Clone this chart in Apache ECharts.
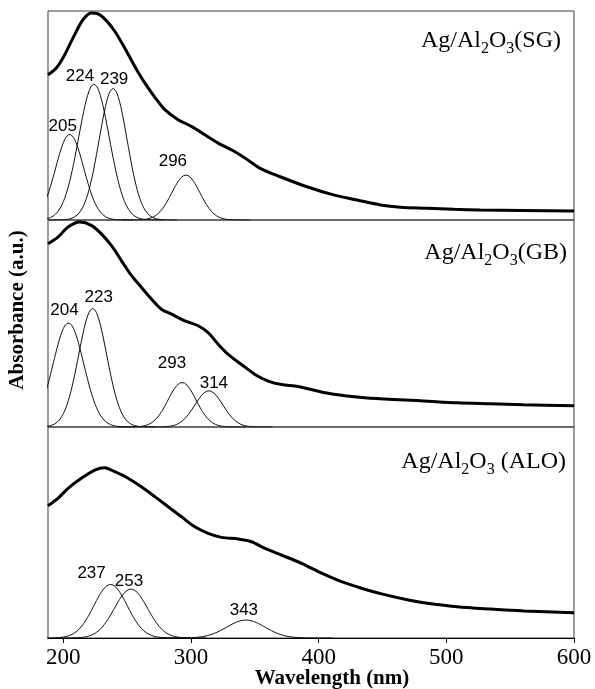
<!DOCTYPE html>
<html>
<head>
<meta charset="utf-8">
<script src="https://cdn.jsdelivr.net/npm/echarts@6/dist/echarts.min.js"></script>
<style>
  html, body { margin: 0; padding: 0; background: #fff; }
  #chart { width: 595px; height: 689px; }
</style>
</head>
<body>
<div id="chart"></div>
<script>
// Wavelength axis (nm)
const xMin = 188;
const xMax = 600;
const tickValues = [200, 300, 400, 500, 600];

// Sample names, top to bottom
const sampleNames = ['SG', 'GB', 'ALO'];

// Measured UV-vis spectra: [wavelength (nm), absorbance (a.u.)]
const spectrumSG = [
  [188, 0.695], [194.5, 0.727], [201.1, 0.791], [208.9, 0.887], [215.4, 0.958],
  [221.9, 0.990], [227.2, 0.986], [233.7, 0.954], [240.3, 0.903], [248.1, 0.823],
  [256, 0.735], [263.8, 0.656], [271.7, 0.587], [279.5, 0.528], [289.9, 0.480],
  [300.3, 0.448], [310.9, 0.408], [321.3, 0.368], [331.7, 0.336], [342.2, 0.297],
  [354.2, 0.247], [369.9, 0.207], [390.8, 0.159], [411.7, 0.120], [430, 0.096],
  [448.3, 0.072], [464, 0.061], [484.9, 0.056], [505.8, 0.051], [526.7, 0.048],
  [600, 0.043]
];
const spectrumGB = [
  [188, 0.885], [195.8, 0.917], [203.7, 0.966], [212.9, 0.990], [221.9, 0.974],
  [229.8, 0.933], [237.6, 0.877], [245.5, 0.804], [253.3, 0.732], [261.1, 0.675],
  [269, 0.618], [276.8, 0.569], [284.7, 0.545], [295.2, 0.513], [305.6, 0.489],
  [313.4, 0.456], [321.3, 0.400], [329.1, 0.351], [339.6, 0.302], [350.1, 0.254],
  [360.5, 0.222], [370.9, 0.205], [384, 0.196], [403.8, 0.167], [422.2, 0.150],
  [440.5, 0.139], [482, 0.126], [508.7, 0.117], [534.5, 0.112], [560.4, 0.107],
  [600, 0.103]
];
const spectrumALO = [
  [188, 0.627], [195.8, 0.662], [203.7, 0.709], [214.1, 0.757], [224.6, 0.796],
  [232.5, 0.807], [240.3, 0.788], [250.7, 0.757], [261.1, 0.717], [271.7, 0.670],
  [282.1, 0.622], [292.5, 0.575], [303, 0.527], [313.4, 0.496], [323.9, 0.477],
  [337, 0.469], [347.4, 0.456], [357.9, 0.425], [370.9, 0.393], [386.6, 0.354],
  [402.3, 0.307], [417.9, 0.267], [433.6, 0.236], [449.3, 0.209], [470.2, 0.180],
  [482.2, 0.167], [508.4, 0.148], [534.5, 0.137], [560.6, 0.128], [600, 0.120]
];

// Gaussian deconvolution bands: centre (nm), height (a.u.), sigma (nm)
const bandCentersSG = [205, 224, 239, 296];
const bandHeightsSG = [0.41, 0.65, 0.63, 0.215];
const bandSigmasSG = [11, 12, 11, 11];

const bandCentersGB = [204, 223, 293, 314];
const bandHeightsGB = [0.503, 0.573, 0.215, 0.175];
const bandSigmasGB = [12, 11, 11, 11];

const bandCentersALO = [237, 253, 343];
const bandHeightsALO = [0.254, 0.232, 0.085];
const bandSigmasALO = [13, 13, 15];

// Pixel nudges for the band-centre labels (layout only)
const labelNudges = [
  [[-7, -8], [-14, -8], [1, -9], [-13, -14]],
  [[-4, -13], [6, -11], [-10, -19], [5, -7]],
  [[-19, -11], [-2, -8], [-2, -10]]
];

const panels = [
  { spectrum: spectrumSG, centers: bandCentersSG, heights: bandHeightsSG, sigmas: bandSigmasSG },
  { spectrum: spectrumGB, centers: bandCentersGB, heights: bandHeightsGB, sigmas: bandSigmasGB },
  { spectrum: spectrumALO, centers: bandCentersALO, heights: bandHeightsALO, sigmas: bandSigmasALO }
];

// Stacked panel frames
const grids = [
  { left: 48, top: 11, width: 526, height: 209 },
  { left: 48, top: 220, width: 526, height: 207 },
  { left: 48, top: 427, width: 526, height: 211 }
];

const serif = '"Liberation Serif", "DejaVu Serif", serif';
const sans = '"Liberation Sans", Arial, sans-serif';

// Gaussian band profile from its fitted parameters
function bandProfile(c, h, s) {
  const pts = [];
  const from = Math.floor(c - 4.5 * s);
  const to = Math.ceil(c + 4.5 * s);
  for (let x = from; x <= to; x += 1) {
    pts.push([x, +(h * Math.exp(-((x - c) * (x - c)) / (2 * s * s))).toFixed(4)]);
  }
  return pts;
}

const series = [];
panels.forEach((p, i) => {
  p.centers.forEach((c, k) => {
    series.push({
      type: 'line',
      xAxisIndex: i,
      yAxisIndex: i,
      data: bandProfile(c, p.heights[k], p.sigmas[k]),
      showSymbol: false,
      smooth: false,
      silent: true,
      lineStyle: { color: '#111', width: 1 },
      z: 2
    });
  });
  series.push({
    type: 'scatter',
    xAxisIndex: i,
    yAxisIndex: i,
    symbolSize: 1,
    silent: true,
    itemStyle: { color: 'transparent', opacity: 1 },
    data: p.centers.map((c, k) => ({
      value: [c, p.heights[k]],
      label: { offset: labelNudges[i][k] }
    })),
    label: {
      show: true,
      position: 'inside',
      formatter: (prm) => String(prm.value[0]),
      fontFamily: sans,
      fontSize: 17,
      color: '#000',
      opacity: 1,
      textBorderWidth: 0
    },
    z: 4
  });
  series.push({
    type: 'line',
    xAxisIndex: i,
    yAxisIndex: i,
    data: p.spectrum,
    showSymbol: false,
    smooth: 0.3,
    silent: true,
    lineStyle: { color: '#000', width: 3 },
    z: 3
  });
});

const xAxes = grids.map((g, i) => ({
  type: 'value',
  gridIndex: i,
  min: xMin,
  max: xMax,
  show: i === 2,
  splitLine: { show: false },
  axisLine: { show: true, onZero: false, lineStyle: { color: '#000', width: 1 } },
  axisTick: { show: true, inside: false, length: 5, customValues: tickValues, lineStyle: { color: '#000' } },
  axisLabel: {
    show: true,
    customValues: tickValues,
    margin: 8,
    fontFamily: serif,
    fontSize: 23,
    color: '#000'
  }
}));

const yAxes = grids.map((g, i) => ({
  type: 'value',
  gridIndex: i,
  min: 0,
  max: 1,
  show: false
}));

function panelTitle(name, x, y) {
  const spacer = name === 'ALO' ? ' ' : '';
  return {
    type: 'text',
    x: x,
    y: y,
    silent: true,
    style: {
      text: '{n|Ag/Al}{s|2}{n|O}{s|3}{n|' + spacer + '(' + name + ')}',
      align: 'right',
      verticalAlign: 'middle',
      fill: '#000',
      rich: {
        n: { fontFamily: serif, fontSize: 24, fill: '#000' },
        s: { fontFamily: serif, fontSize: 16, fill: '#000', padding: [16, 0, 0, 0] }
      }
    }
  };
}

const option = {
  backgroundColor: '#fff',
  animation: false,
  grid: grids.map(g => Object.assign({
    show: true,
    borderColor: '#3a3a3a',
    borderWidth: 1,
    backgroundColor: 'transparent',
    containLabel: false
  }, g)),
  xAxis: xAxes,
  yAxis: yAxes,
  series: series,
  graphic: [
    panelTitle(sampleNames[0], 561, 41),
    panelTitle(sampleNames[1], 567, 253),
    panelTitle(sampleNames[2], 566, 462),
    {
      type: 'text',
      x: 332,
      y: 679,
      silent: true,
      style: {
        text: 'Wavelength (nm)',
        align: 'center',
        verticalAlign: 'middle',
        font: 'bold 21px ' + serif,
        fill: '#000'
      }
    },
    {
      type: 'text',
      x: 18,
      y: 310,
      rotation: Math.PI / 2,
      silent: true,
      style: {
        text: 'Absorbance (a.u.)',
        align: 'center',
        verticalAlign: 'middle',
        font: 'bold 21px ' + serif,
        fill: '#000'
      }
    }
  ]
};

const chart = echarts.init(document.getElementById('chart'), null, { renderer: 'canvas' });
chart.setOption(option);
</script>
</body>
</html>
